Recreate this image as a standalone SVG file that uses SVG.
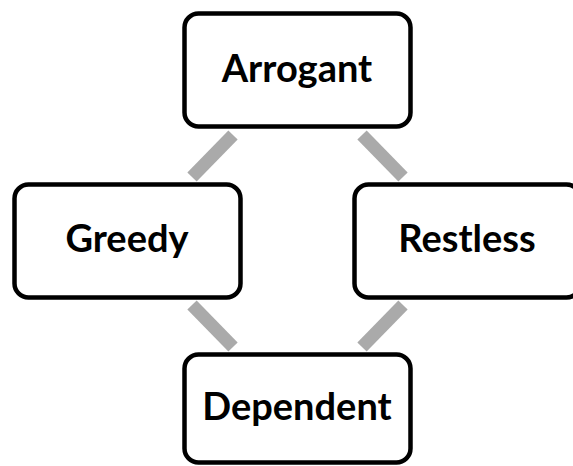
<svg xmlns="http://www.w3.org/2000/svg" width="573" height="466" viewBox="0 0 573 466">
<style>
.box{fill:#fff;stroke:#000;stroke-width:4.5}
.lbl{font-family:Lato,"Open Sans",sans-serif;font-weight:700;font-size:38px;fill:#000;text-anchor:middle}
.con{stroke:#aaaaaa;stroke-width:13;fill:none}
</style>
<rect width="573" height="466" fill="#fff"/>
<g id="connectors">
<line class="con" x1="233" y1="135" x2="192" y2="177"/>
<line class="con" x1="362" y1="135" x2="403" y2="177"/>
<line class="con" x1="192" y1="305" x2="233" y2="347"/>
<line class="con" x1="403" y1="305" x2="362" y2="347"/>
</g>
<g id="arrogant">
<rect class="box" x="184.5" y="13.5" width="226" height="113" rx="14"/>
<text class="lbl" x="297" y="82">Arrogant</text>
</g>
<g id="greedy">
<rect class="box" x="14.5" y="184.5" width="226" height="113" rx="14"/>
<text class="lbl" x="127" y="252">Greedy</text>
</g>
<g id="restless">
<rect class="box" x="354.5" y="184.5" width="226" height="113" rx="14"/>
<text class="lbl" x="467" y="252">Restless</text>
</g>
<g id="dependent">
<rect class="box" x="184.5" y="354.5" width="226" height="108" rx="14"/>
<text class="lbl" x="297" y="420">Dependent</text>
</g>
</svg>
